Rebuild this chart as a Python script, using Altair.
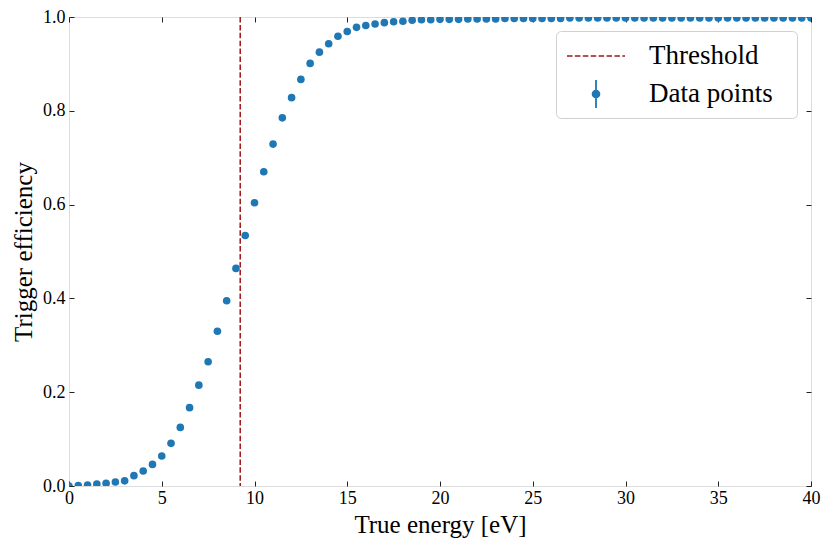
import altair as alt
import pandas as pd

# ---- data ----
energy = [i * 0.5 for i in range(81)]
efficiency = [
    0.000, 0.001, 0.002, 0.004, 0.006, 0.0085, 0.011, 0.022, 0.032, 0.046,
    0.064, 0.091, 0.125, 0.167, 0.215, 0.265, 0.330, 0.395, 0.464, 0.534,
    0.604, 0.670, 0.729, 0.785, 0.828, 0.867, 0.901, 0.925, 0.943, 0.959,
    0.969, 0.978, 0.982, 0.985, 0.988, 0.990, 0.991, 0.993, 0.994, 0.994,
    0.995, 0.995, 0.995, 0.996, 0.996, 0.996, 0.996, 0.997, 0.997, 0.997,
    0.997, 0.997, 0.997, 0.997, 0.998, 0.998, 0.998, 0.998, 0.998, 0.998,
    0.998, 0.998, 0.998, 0.998, 0.998, 0.998, 0.998, 0.998, 0.998, 0.998,
    0.998, 0.998, 0.998, 0.998, 0.998, 0.998, 0.998, 0.998, 0.998, 0.998,
    0.998,
]
threshold = [9.23]
series_names = ["Threshold", "Data points"]
x_ticks = [0, 5, 10, 15, 20, 25, 30, 35, 40]
y_ticks = [0.0, 0.2, 0.4, 0.6, 0.8, 1.0]

BLUE = "#1f77b4"
RED = "#a01818"
FONT = "Liberation Serif"

df = pd.DataFrame({"energy": energy, "eff": efficiency})
df_thr = pd.DataFrame({"thr": threshold})
# legend-only rows: placed outside the x domain so they are clipped
df_leg = pd.DataFrame({"series": series_names, "energy": [-10.0, -10.0], "eff": [0.5, 0.5]})

# ---- legend symbol paths (unit = 15 px, symbol size 900) ----
def dash_path():
    parts = []
    x = -0.933
    end = 2.933
    dash, gap, h = 0.367, 0.16, 0.05
    while x < end:
        x2 = min(x + dash, end)
        parts.append(f"M{x:.3f},{-h}H{x2:.3f}V{h}H{x:.3f}Z")
        x = x2 + gap
    return "".join(parts)

cx = 1.0
errbar_path = (
    f"M{cx-0.06:.3f},-0.93H{cx+0.06:.3f}V0.93H{cx-0.06:.3f}Z"
    f"M{cx-0.29:.3f},0A0.29,0.29 0 1,1 {cx+0.29:.3f},0A0.29,0.29 0 1,1 {cx-0.29:.3f},0Z"
)

xscale = alt.Scale(domain=[0, 40], nice=False, zero=False)
yscale = alt.Scale(domain=[0, 1], nice=False, zero=False)

common_axis = dict(
    domain=False, offset=-5, tickSize=5, tickColor="#222", tickWidth=1,
    labelFont=FONT, labelFontSize=18, labelColor="#000", labelFlush=False,
    titleFont=FONT, titleFontSize=25, titleFontWeight="normal", titleColor="#000",
    grid=False,
)

points = alt.Chart(df).mark_point(filled=True, size=58, opacity=1, color=BLUE, clip=True).encode(
    x=alt.X("energy:Q", scale=xscale,
            axis=alt.Axis(values=x_ticks, format="d", title="True energy [eV]",
                          labelPadding=3, titlePadding=5, orient="bottom", **common_axis)),
    y=alt.Y("eff:Q", scale=yscale,
            axis=alt.Axis(values=y_ticks, format=".1f", title="Trigger efficiency",
                          labelPadding=4, titlePadding=6, orient="left", **common_axis)),
)

rule = alt.Chart(df_thr).mark_rule(color=RED, strokeWidth=1.5, strokeDash=[5.5, 2.4]).encode(
    x=alt.X("thr:Q", scale=xscale,
            axis=alt.Axis(values=x_ticks, labels=False, title=None, orient="top", **common_axis)),
)

leg_props = dict(
    title=None, orient="top-right", offset=14,
    symbolSize=900, symbolStrokeWidth=0, symbolOpacity=1,
    labelFont=FONT, labelFontSize=27, labelColor="#000",
    labelExpr="datum.label + '\u2002\u200b'",
    labelOffset=53, rowPadding=10, padding=10,
    strokeColor="#d0d0d0", fillColor="white", cornerRadius=5,
)

legend_layer = alt.Chart(df_leg).mark_point(filled=True, size=58, opacity=1, clip=True).encode(
    x=alt.X("energy:Q", scale=xscale, axis=None),
    y=alt.Y("eff:Q", scale=yscale,
            axis=alt.Axis(values=y_ticks, labels=False, title=None, orient="right", **common_axis)),
    color=alt.Color("series:N", scale=alt.Scale(domain=series_names, range=[RED, BLUE]),
                    legend=alt.Legend(**leg_props)),
    shape=alt.Shape("series:N", scale=alt.Scale(domain=series_names, range=[dash_path(), errbar_path]),
                    legend=alt.Legend(**leg_props)),
)

chart = alt.layer(rule, points, legend_layer).properties(
    width=742, height=469,
    autosize=alt.AutoSizeParams(type="none"),
    padding={"left": 61, "top": 9, "right": 10, "bottom": 60},
).configure_view(stroke="#222", strokeWidth=1).configure(background="white")

chart.save("out.html", embed_options={"renderer": "svg", "actions": False})
